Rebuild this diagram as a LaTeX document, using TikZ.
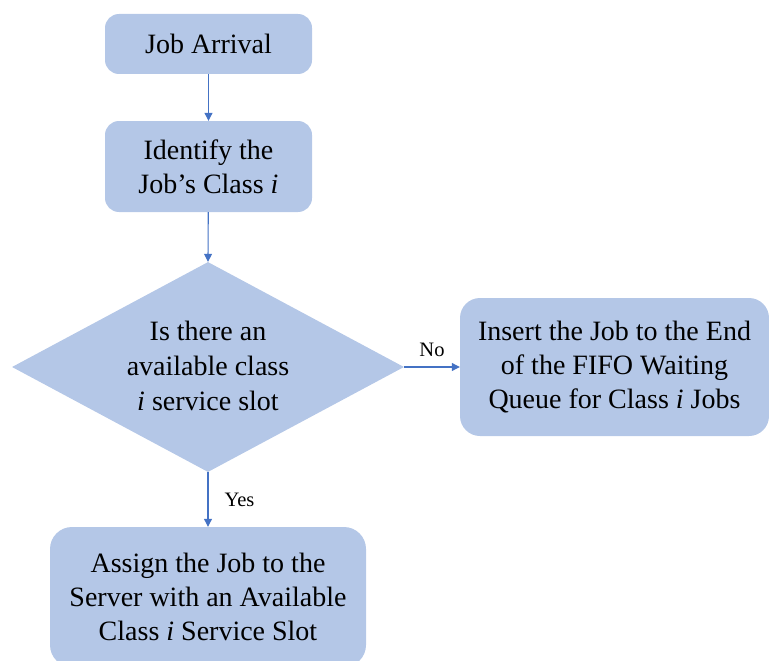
\documentclass[tikz,border=0pt]{standalone}
\usepackage{fontspec}
\setmainfont{Liberation Serif}
\usetikzlibrary{arrows.meta,shapes.geometric}
\definecolor{boxfill}{HTML}{B4C7E7}
\definecolor{arrowc}{HTML}{4472C4}
\begin{document}
\begin{tikzpicture}[x=1pt,y=-1pt,
  box/.style={fill=boxfill, draw=none, rounded corners=14pt, align=center,
    font=\fontsize{28}{34}\selectfont, inner sep=0pt},
  dia/.style={diamond, fill=boxfill, draw=none, inner sep=0pt},
  txt/.style={align=center, font=\fontsize{28}{35}\selectfont, inner sep=0pt},
  lbl/.style={font=\fontsize{20.5}{24}\selectfont, inner sep=0pt},
  conn/.style={draw=arrowc, line width=1.1pt, -{Triangle[length=8pt,width=8pt]}}]
\useasboundingbox (0,0) rectangle (769,661);
\node[box, minimum width=207pt, minimum height=60pt] (arrival) at (208.5,44) {Job Arrival};
\node[box, minimum width=207pt, minimum height=91pt] (identify) at (208.5,166.5) {Identify the\\Job’s Class \textit{i}};
\node[dia, minimum width=392pt, minimum height=210pt] (decide) at (208,367) {};
\node[txt] (decidetxt) at (208,366) {Is there an\\available class\\\textit{i} service slot};
\node[box, rounded corners=20pt, minimum width=309pt, minimum height=138pt] (insert) at (614.5,367) {Insert the Job to the End\\of the FIFO Waiting\\Queue for Class \textit{i} Jobs};
\node[box, rounded corners=22pt, minimum width=316pt, minimum height=140pt] (assign) at (208,597) {Assign the Job to the\\Server with an Available\\Class \textit{i} Service Slot};
\draw[conn] (arrival) -- (identify);
\draw[conn] (identify) -- (decide.north);
\draw[conn] (decide.east) -- (insert.west) node[lbl, midway, above=10pt] (nolbl) {No};
\draw[conn] (decide.south) -- (assign.north) node[lbl, midway, right=16pt] (yeslbl) {Yes};
\end{tikzpicture}
\end{document}
